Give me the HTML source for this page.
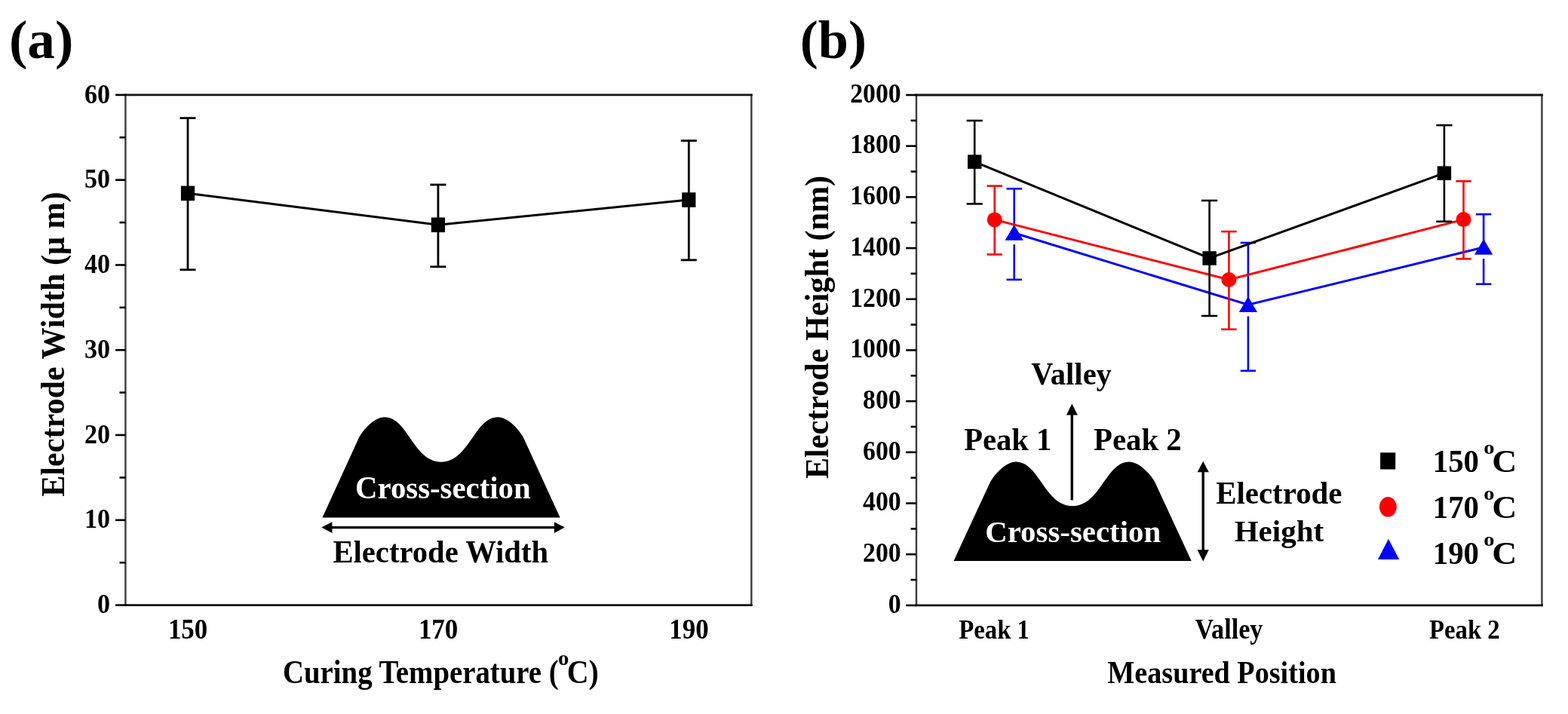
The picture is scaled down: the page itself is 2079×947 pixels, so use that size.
<!DOCTYPE html>
<html><head><meta charset="utf-8"><title>Electrode figure</title>
<style>html,body{margin:0;padding:0;background:#fff;}svg{display:block;}</style>
</head><body>
<svg width="2079" height="947" viewBox="0 0 2079 947">
<text font-family="'Liberation Serif','Times New Roman',serif" font-weight="bold" font-size="72.54" fill="#000" transform="translate(11.90,77.11) scale(1.0095,1)">(a)</text>
<path d="M166.40,125.90 V802.60 M996.30,125.90 V802.60" stroke="#3c3c3c" stroke-width="2.4" fill="none" stroke-linecap="square"/>
<path d="M166.40,125.90 H996.30 M166.40,802.60 H996.30" stroke="#111" stroke-width="2.8" fill="none" stroke-linecap="square"/>
<line x1="153.00" y1="802.60" x2="166.40" y2="802.60" stroke="#000" stroke-width="2.6"/>
<line x1="153.00" y1="689.82" x2="166.40" y2="689.82" stroke="#000" stroke-width="2.6"/>
<line x1="153.00" y1="577.03" x2="166.40" y2="577.03" stroke="#000" stroke-width="2.6"/>
<line x1="153.00" y1="464.25" x2="166.40" y2="464.25" stroke="#000" stroke-width="2.6"/>
<line x1="153.00" y1="351.47" x2="166.40" y2="351.47" stroke="#000" stroke-width="2.6"/>
<line x1="153.00" y1="238.68" x2="166.40" y2="238.68" stroke="#000" stroke-width="2.6"/>
<line x1="153.00" y1="125.90" x2="166.40" y2="125.90" stroke="#000" stroke-width="2.6"/>
<line x1="158.50" y1="746.21" x2="166.40" y2="746.21" stroke="#000" stroke-width="2.6"/>
<line x1="158.50" y1="633.42" x2="166.40" y2="633.42" stroke="#000" stroke-width="2.6"/>
<line x1="158.50" y1="520.64" x2="166.40" y2="520.64" stroke="#000" stroke-width="2.6"/>
<line x1="158.50" y1="407.86" x2="166.40" y2="407.86" stroke="#000" stroke-width="2.6"/>
<line x1="158.50" y1="295.07" x2="166.40" y2="295.07" stroke="#000" stroke-width="2.6"/>
<line x1="158.50" y1="182.29" x2="166.40" y2="182.29" stroke="#000" stroke-width="2.6"/>
<text font-family="'Liberation Serif','Times New Roman',serif" font-weight="bold" font-size="36.60" fill="#000" transform="translate(128.97,813.20) scale(0.9290,1)">0</text>
<text font-family="'Liberation Serif','Times New Roman',serif" font-weight="bold" font-size="36.60" fill="#000" transform="translate(111.97,700.42) scale(0.9290,1)">10</text>
<text font-family="'Liberation Serif','Times New Roman',serif" font-weight="bold" font-size="36.60" fill="#000" transform="translate(111.97,587.63) scale(0.9290,1)">20</text>
<text font-family="'Liberation Serif','Times New Roman',serif" font-weight="bold" font-size="36.60" fill="#000" transform="translate(111.97,474.85) scale(0.9290,1)">30</text>
<text font-family="'Liberation Serif','Times New Roman',serif" font-weight="bold" font-size="36.60" fill="#000" transform="translate(111.97,362.07) scale(0.9290,1)">40</text>
<text font-family="'Liberation Serif','Times New Roman',serif" font-weight="bold" font-size="36.60" fill="#000" transform="translate(111.97,249.28) scale(0.9290,1)">50</text>
<text font-family="'Liberation Serif','Times New Roman',serif" font-weight="bold" font-size="36.60" fill="#000" transform="translate(111.97,136.50) scale(0.9290,1)">60</text>
<text font-family="'Liberation Serif','Times New Roman',serif" font-weight="bold" font-size="36.90" fill="#000" transform="translate(222.88,846.60) scale(0.9458,1)">150</text>
<text font-family="'Liberation Serif','Times New Roman',serif" font-weight="bold" font-size="36.90" fill="#000" transform="translate(554.88,846.60) scale(0.9458,1)">170</text>
<text font-family="'Liberation Serif','Times New Roman',serif" font-weight="bold" font-size="36.90" fill="#000" transform="translate(887.28,846.60) scale(0.9458,1)">190</text>
<text font-family="'Liberation Serif','Times New Roman',serif" font-weight="bold" font-size="43.66" fill="#000" transform="translate(374.96,905.50) scale(0.8888,1)">Curing Temperature (</text>
<text font-family="'Liberation Serif','Times New Roman',serif" font-weight="bold" font-size="27.02" fill="#000" transform="translate(739.92,882.40) scale(1.0623,1)">o</text>
<text font-family="'Liberation Serif','Times New Roman',serif" font-weight="bold" font-size="43.64" fill="#000" transform="translate(751.71,905.50) scale(0.9143,1)">C)</text>
<text font-family="'Liberation Serif','Times New Roman',serif" font-weight="bold" font-size="43.97" fill="#000" transform="translate(84.60,658.84) rotate(-90) scale(0.9589,1)">Electrode Width (μ m)</text>
<polyline points="249.0,256.4 580.9,298.3 913.3,265.1" fill="none" stroke="#000" stroke-width="3"/>
<line x1="249.00" y1="156.60" x2="249.00" y2="357.80" stroke="#000" stroke-width="2.8"/>
<line x1="238.50" y1="156.60" x2="259.50" y2="156.60" stroke="#000" stroke-width="2.8"/>
<line x1="238.50" y1="357.80" x2="259.50" y2="357.80" stroke="#000" stroke-width="2.8"/>
<rect x="239.9" y="246.6" width="18.2" height="19.6" fill="#000"/>
<line x1="580.90" y1="245.00" x2="580.90" y2="353.80" stroke="#000" stroke-width="2.8"/>
<line x1="570.40" y1="245.00" x2="591.40" y2="245.00" stroke="#000" stroke-width="2.8"/>
<line x1="570.40" y1="353.80" x2="591.40" y2="353.80" stroke="#000" stroke-width="2.8"/>
<rect x="571.8" y="288.5" width="18.2" height="19.6" fill="#000"/>
<line x1="913.30" y1="186.60" x2="913.30" y2="344.90" stroke="#000" stroke-width="2.8"/>
<line x1="902.80" y1="186.60" x2="923.80" y2="186.60" stroke="#000" stroke-width="2.8"/>
<line x1="902.80" y1="344.90" x2="923.80" y2="344.90" stroke="#000" stroke-width="2.8"/>
<rect x="904.2" y="255.3" width="18.2" height="19.6" fill="#000"/>
<path d="M 427.40,686.50 L 475.00,582.50 C 480.00,571.60 495.90,553.30 509.90,553.30 C 540.90,553.30 547.90,612.70 585.00,612.70 C 622.10,612.70 629.10,553.30 660.10,553.30 C 674.10,553.30 690.00,571.60 695.00,582.50 L 742.60,686.50 Z" fill="#000"/>
<text font-family="'Liberation Serif','Times New Roman',serif" font-weight="bold" font-size="41.67" fill="#fff" transform="translate(471.06,660.60) scale(0.9792,1)">Cross-section</text>
<line x1="438" y1="699.6" x2="737" y2="699.6" stroke="#000" stroke-width="3.4"/>
<polygon points="426.2,699.6 440.4,692.2 440.4,707.0" fill="#000"/>
<polygon points="748.7,699.6 734.8,692.2 734.8,707.0" fill="#000"/>
<text font-family="'Liberation Serif','Times New Roman',serif" font-weight="bold" font-size="41.68" fill="#000" transform="translate(441.39,746.20) scale(0.9758,1)">Electrode Width</text>
<text font-family="'Liberation Serif','Times New Roman',serif" font-weight="bold" font-size="71.91" fill="#000" transform="translate(1060.85,76.88) scale(1.0035,1)">(b)</text>
<path d="M1215.00,126.00 V802.90 M2044.40,126.00 V802.90" stroke="#3c3c3c" stroke-width="2.4" fill="none" stroke-linecap="square"/>
<path d="M1215.00,126.00 H2044.40 M1215.00,802.90 H2044.40" stroke="#111" stroke-width="2.8" fill="none" stroke-linecap="square"/>
<line x1="1201.20" y1="802.90" x2="1215.00" y2="802.90" stroke="#000" stroke-width="2.6"/>
<line x1="1201.20" y1="735.21" x2="1215.00" y2="735.21" stroke="#000" stroke-width="2.6"/>
<line x1="1201.20" y1="667.52" x2="1215.00" y2="667.52" stroke="#000" stroke-width="2.6"/>
<line x1="1201.20" y1="599.83" x2="1215.00" y2="599.83" stroke="#000" stroke-width="2.6"/>
<line x1="1201.20" y1="532.14" x2="1215.00" y2="532.14" stroke="#000" stroke-width="2.6"/>
<line x1="1201.20" y1="464.45" x2="1215.00" y2="464.45" stroke="#000" stroke-width="2.6"/>
<line x1="1201.20" y1="396.76" x2="1215.00" y2="396.76" stroke="#000" stroke-width="2.6"/>
<line x1="1201.20" y1="329.07" x2="1215.00" y2="329.07" stroke="#000" stroke-width="2.6"/>
<line x1="1201.20" y1="261.38" x2="1215.00" y2="261.38" stroke="#000" stroke-width="2.6"/>
<line x1="1201.20" y1="193.69" x2="1215.00" y2="193.69" stroke="#000" stroke-width="2.6"/>
<line x1="1201.20" y1="126.00" x2="1215.00" y2="126.00" stroke="#000" stroke-width="2.6"/>
<line x1="1207.60" y1="769.05" x2="1215.00" y2="769.05" stroke="#000" stroke-width="2.6"/>
<line x1="1207.60" y1="701.37" x2="1215.00" y2="701.37" stroke="#000" stroke-width="2.6"/>
<line x1="1207.60" y1="633.67" x2="1215.00" y2="633.67" stroke="#000" stroke-width="2.6"/>
<line x1="1207.60" y1="565.99" x2="1215.00" y2="565.99" stroke="#000" stroke-width="2.6"/>
<line x1="1207.60" y1="498.29" x2="1215.00" y2="498.29" stroke="#000" stroke-width="2.6"/>
<line x1="1207.60" y1="430.60" x2="1215.00" y2="430.60" stroke="#000" stroke-width="2.6"/>
<line x1="1207.60" y1="362.91" x2="1215.00" y2="362.91" stroke="#000" stroke-width="2.6"/>
<line x1="1207.60" y1="295.22" x2="1215.00" y2="295.22" stroke="#000" stroke-width="2.6"/>
<line x1="1207.60" y1="227.53" x2="1215.00" y2="227.53" stroke="#000" stroke-width="2.6"/>
<line x1="1207.60" y1="159.85" x2="1215.00" y2="159.85" stroke="#000" stroke-width="2.6"/>
<text font-family="'Liberation Serif','Times New Roman',serif" font-weight="bold" font-size="35.60" fill="#000" transform="translate(1177.81,812.70) scale(0.9466,1)">0</text>
<text font-family="'Liberation Serif','Times New Roman',serif" font-weight="bold" font-size="35.60" fill="#000" transform="translate(1144.11,745.01) scale(0.9466,1)">200</text>
<text font-family="'Liberation Serif','Times New Roman',serif" font-weight="bold" font-size="35.60" fill="#000" transform="translate(1144.11,677.32) scale(0.9466,1)">400</text>
<text font-family="'Liberation Serif','Times New Roman',serif" font-weight="bold" font-size="35.60" fill="#000" transform="translate(1144.11,609.63) scale(0.9466,1)">600</text>
<text font-family="'Liberation Serif','Times New Roman',serif" font-weight="bold" font-size="35.60" fill="#000" transform="translate(1144.11,541.94) scale(0.9466,1)">800</text>
<text font-family="'Liberation Serif','Times New Roman',serif" font-weight="bold" font-size="35.60" fill="#000" transform="translate(1127.26,474.25) scale(0.9466,1)">1000</text>
<text font-family="'Liberation Serif','Times New Roman',serif" font-weight="bold" font-size="35.60" fill="#000" transform="translate(1127.26,406.56) scale(0.9466,1)">1200</text>
<text font-family="'Liberation Serif','Times New Roman',serif" font-weight="bold" font-size="35.60" fill="#000" transform="translate(1127.26,338.87) scale(0.9466,1)">1400</text>
<text font-family="'Liberation Serif','Times New Roman',serif" font-weight="bold" font-size="35.60" fill="#000" transform="translate(1127.26,271.18) scale(0.9466,1)">1600</text>
<text font-family="'Liberation Serif','Times New Roman',serif" font-weight="bold" font-size="35.60" fill="#000" transform="translate(1127.26,203.49) scale(0.9466,1)">1800</text>
<text font-family="'Liberation Serif','Times New Roman',serif" font-weight="bold" font-size="35.60" fill="#000" transform="translate(1127.26,135.80) scale(0.9466,1)">2000</text>
<text font-family="'Liberation Serif','Times New Roman',serif" font-weight="bold" font-size="36.79" fill="#000" transform="translate(1271.23,846.50) scale(0.8913,1)">Peak 1</text>
<text font-family="'Liberation Serif','Times New Roman',serif" font-weight="bold" font-size="36.95" fill="#000" transform="translate(1584.56,846.60) scale(0.9250,1)">Valley</text>
<text font-family="'Liberation Serif','Times New Roman',serif" font-weight="bold" font-size="36.79" fill="#000" transform="translate(1895.03,846.50) scale(0.8901,1)">Peak 2</text>
<text font-family="'Liberation Serif','Times New Roman',serif" font-weight="bold" font-size="42.14" fill="#000" transform="translate(1468.23,905.90) scale(0.9061,1)">Measured Position</text>
<text font-family="'Liberation Serif','Times New Roman',serif" font-weight="bold" font-size="43.51" fill="#000" transform="translate(1098.00,635.04) rotate(-90) scale(0.9695,1)">Electrode Height (nm)</text>
<line x1="1344.70" y1="250.30" x2="1344.70" y2="309.00" stroke="#0000ff" stroke-width="2.6"/>
<line x1="1344.70" y1="324.20" x2="1344.70" y2="370.90" stroke="#0000ff" stroke-width="2.6"/>
<line x1="1334.50" y1="250.30" x2="1354.90" y2="250.30" stroke="#0000ff" stroke-width="2.6"/>
<line x1="1334.50" y1="370.90" x2="1354.90" y2="370.90" stroke="#0000ff" stroke-width="2.6"/>
<line x1="1654.90" y1="322.00" x2="1654.90" y2="404.30" stroke="#0000ff" stroke-width="2.6"/>
<line x1="1654.90" y1="419.50" x2="1654.90" y2="491.80" stroke="#0000ff" stroke-width="2.6"/>
<line x1="1644.70" y1="322.00" x2="1665.10" y2="322.00" stroke="#0000ff" stroke-width="2.6"/>
<line x1="1644.70" y1="491.80" x2="1665.10" y2="491.80" stroke="#0000ff" stroke-width="2.6"/>
<line x1="1967.10" y1="284.20" x2="1967.10" y2="328.00" stroke="#0000ff" stroke-width="2.6"/>
<line x1="1967.10" y1="343.20" x2="1967.10" y2="376.80" stroke="#0000ff" stroke-width="2.6"/>
<line x1="1956.90" y1="284.20" x2="1977.30" y2="284.20" stroke="#0000ff" stroke-width="2.6"/>
<line x1="1956.90" y1="376.80" x2="1977.30" y2="376.80" stroke="#0000ff" stroke-width="2.6"/>
<polyline points="1344.7,309.0 1654.9,404.3 1967.1,328.0" fill="none" stroke="#0000ff" stroke-width="3"/>
<polygon points="1344.7,298.0 1332.6,318.7 1356.8,318.7" fill="#0000ff"/>
<polygon points="1654.9,393.3 1642.8,414.0 1667.0,414.0" fill="#0000ff"/>
<polygon points="1967.1,317.0 1955.0,337.7 1979.2,337.7" fill="#0000ff"/>
<line x1="1318.70" y1="246.60" x2="1318.70" y2="337.50" stroke="#ff0000" stroke-width="2.6"/>
<line x1="1308.50" y1="246.60" x2="1328.90" y2="246.60" stroke="#ff0000" stroke-width="2.6"/>
<line x1="1308.50" y1="337.50" x2="1328.90" y2="337.50" stroke="#ff0000" stroke-width="2.6"/>
<line x1="1629.40" y1="307.10" x2="1629.40" y2="436.80" stroke="#ff0000" stroke-width="2.6"/>
<line x1="1619.20" y1="307.10" x2="1639.60" y2="307.10" stroke="#ff0000" stroke-width="2.6"/>
<line x1="1619.20" y1="436.80" x2="1639.60" y2="436.80" stroke="#ff0000" stroke-width="2.6"/>
<line x1="1940.50" y1="240.30" x2="1940.50" y2="343.30" stroke="#ff0000" stroke-width="2.6"/>
<line x1="1930.30" y1="240.30" x2="1950.70" y2="240.30" stroke="#ff0000" stroke-width="2.6"/>
<line x1="1930.30" y1="343.30" x2="1950.70" y2="343.30" stroke="#ff0000" stroke-width="2.6"/>
<polyline points="1318.7,291.4 1629.4,371.0 1940.5,291.1" fill="none" stroke="#ff0000" stroke-width="3"/>
<circle cx="1318.7" cy="291.4" r="10" fill="#ff0000"/>
<circle cx="1629.4" cy="371.0" r="10" fill="#ff0000"/>
<circle cx="1940.5" cy="291.1" r="10" fill="#ff0000"/>
<line x1="1292.20" y1="160.00" x2="1292.20" y2="270.40" stroke="#000" stroke-width="2.6"/>
<line x1="1281.60" y1="160.00" x2="1302.80" y2="160.00" stroke="#000" stroke-width="2.6"/>
<line x1="1281.60" y1="270.40" x2="1302.80" y2="270.40" stroke="#000" stroke-width="2.6"/>
<line x1="1603.60" y1="266.00" x2="1603.60" y2="419.00" stroke="#000" stroke-width="2.6"/>
<line x1="1593.00" y1="266.00" x2="1614.20" y2="266.00" stroke="#000" stroke-width="2.6"/>
<line x1="1593.00" y1="419.00" x2="1614.20" y2="419.00" stroke="#000" stroke-width="2.6"/>
<line x1="1914.90" y1="166.10" x2="1914.90" y2="293.80" stroke="#000" stroke-width="2.6"/>
<line x1="1904.30" y1="166.10" x2="1925.50" y2="166.10" stroke="#000" stroke-width="2.6"/>
<line x1="1904.30" y1="293.80" x2="1925.50" y2="293.80" stroke="#000" stroke-width="2.6"/>
<polyline points="1292.2,214.6 1603.6,342.5 1914.9,229.7" fill="none" stroke="#000" stroke-width="3"/>
<rect x="1283.0" y="205.3" width="18.4" height="18.6" fill="#000"/>
<rect x="1594.4" y="333.2" width="18.4" height="18.6" fill="#000"/>
<rect x="1905.7" y="220.4" width="18.4" height="18.6" fill="#000"/>
<path d="M 1264.50,743.90 L 1312.10,641.23 C 1317.10,630.47 1333.00,612.40 1347.00,612.40 C 1378.00,612.40 1385.00,671.04 1422.10,671.04 C 1459.20,671.04 1466.20,612.40 1497.20,612.40 C 1511.20,612.40 1527.10,630.47 1532.10,641.23 L 1579.70,743.90 Z" fill="#000"/>
<text font-family="'Liberation Serif','Times New Roman',serif" font-weight="bold" font-size="40.45" fill="#fff" transform="translate(1306.16,718.60) scale(1.0107,1)">Cross-section</text>
<text font-family="'Liberation Serif','Times New Roman',serif" font-weight="bold" font-size="41.68" fill="#000" transform="translate(1367.29,510.00) scale(0.9726,1)">Valley</text>
<text font-family="'Liberation Serif','Times New Roman',serif" font-weight="bold" font-size="41.53" fill="#000" transform="translate(1278.19,596.80) scale(0.9788,1)">Peak 1</text>
<text font-family="'Liberation Serif','Times New Roman',serif" font-weight="bold" font-size="41.53" fill="#000" transform="translate(1449.99,596.80) scale(0.9830,1)">Peak 2</text>
<text font-family="'Liberation Serif','Times New Roman',serif" font-weight="bold" font-size="41.22" fill="#000" transform="translate(1612.18,668.40) scale(0.9925,1)">Electrode</text>
<text font-family="'Liberation Serif','Times New Roman',serif" font-weight="bold" font-size="40.61" fill="#000" transform="translate(1636.68,717.80) scale(1.0099,1)">Height</text>
<line x1="1421.3" y1="663.4" x2="1421.3" y2="548" stroke="#000" stroke-width="3.4"/>
<polygon points="1421.3,535.6 1413.9,550.5 1428.8,550.5" fill="#000"/>
<line x1="1595.2" y1="622" x2="1595.2" y2="733" stroke="#000" stroke-width="3.4"/>
<polygon points="1595.2,611.8 1587.6,626.2 1602.8,626.2" fill="#000"/>
<polygon points="1595.2,744.4 1587.6,729.2 1602.8,729.2" fill="#000"/>
<rect x="1830.1" y="600.3" width="20.1" height="22.2" fill="#000"/>
<ellipse cx="1840.3" cy="672.3" rx="11.4" ry="13.3" fill="#ff0000"/>
<polygon points="1840.9,714.8 1827.0,742.0 1855.2,742.0" fill="#0000ff"/>
<text font-family="'Liberation Serif','Times New Roman',serif" font-weight="bold" font-size="42.41" fill="#000" transform="translate(1899.74,625.90) scale(0.9620,1)">150</text>
<text font-family="'Liberation Serif','Times New Roman',serif" font-weight="bold" font-size="24.26" fill="#000" transform="translate(1967.13,601.90) scale(1.1738,1)">o</text>
<text font-family="'Liberation Serif','Times New Roman',serif" font-weight="bold" font-size="42.73" fill="#000" transform="translate(1978.31,625.90) scale(1.0699,1)">C</text>
<text font-family="'Liberation Serif','Times New Roman',serif" font-weight="bold" font-size="41.95" fill="#000" transform="translate(1899.74,686.90) scale(0.9724,1)">170</text>
<text font-family="'Liberation Serif','Times New Roman',serif" font-weight="bold" font-size="24.26" fill="#000" transform="translate(1967.13,662.90) scale(1.1738,1)">o</text>
<text font-family="'Liberation Serif','Times New Roman',serif" font-weight="bold" font-size="42.27" fill="#000" transform="translate(1978.31,686.90) scale(1.0814,1)">C</text>
<text font-family="'Liberation Serif','Times New Roman',serif" font-weight="bold" font-size="42.86" fill="#000" transform="translate(1899.74,747.70) scale(0.9519,1)">190</text>
<text font-family="'Liberation Serif','Times New Roman',serif" font-weight="bold" font-size="24.26" fill="#000" transform="translate(1967.13,723.70) scale(1.1738,1)">o</text>
<text font-family="'Liberation Serif','Times New Roman',serif" font-weight="bold" font-size="43.18" fill="#000" transform="translate(1978.31,747.70) scale(1.0586,1)">C</text>
</svg>
</body></html>
